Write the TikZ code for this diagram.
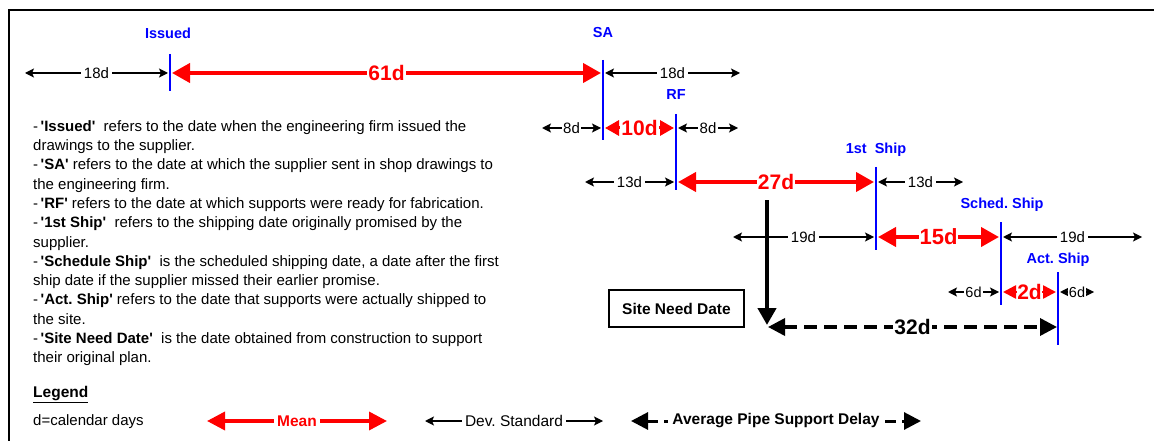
\documentclass[tikz,border=0pt]{standalone}
\usepackage{fontspec}
\setmainfont{Liberation Sans}[Ligatures=TeXOff]
\usetikzlibrary{arrows.meta}
\frenchspacing
\begin{document}
\begin{tikzpicture}[x=1pt,y=-1pt,
  dev/.style={draw=black, line width=1.2pt, {Stealth[length=9pt,width=9pt,inset=2pt]}-{Stealth[length=9pt,width=9pt,inset=2pt]}},
  devlab/.style={fill=white, inner sep=2.5pt, font=\fontsize{15}{17}\selectfont},
  mean/.style={draw=red, line width=4pt, {Triangle[length=18pt,width=19pt]}-{Triangle[length=18pt,width=19pt]}},
  meansm/.style={draw=red, line width=3pt, {Triangle[length=14pt,width=15pt]}-{Triangle[length=14pt,width=15pt]}},
  meanxs/.style={draw=red, line width=2.5pt, {Triangle[length=13pt,width=13pt]}-{Triangle[length=13pt,width=13pt]}},
  meanlab/.style={fill=white, inner sep=1pt, text=red, font=\bfseries\fontsize{21}{23}\selectfont},
  milestone/.style={draw=blue, line width=1.8pt},
  mslab/.style={text=blue, font=\bfseries\fontsize{14.5}{16}\selectfont},
  body/.style={anchor=base west, inner sep=0pt, font=\fontsize{15}{17}\selectfont},
  delay/.style={draw=black, line width=3.5pt, dash pattern=on 13pt off 7pt, {Triangle[length=17pt,width=17pt]}-{Triangle[length=17pt,width=17pt]}},
]
\useasboundingbox (0,0) rectangle (1154,441);
% frame
\coordinate (fb) at (9,441); \coordinate (ftl) at (9,10); \coordinate (ftr) at (1154,10);
\draw[line width=2pt] (fb) -- (ftl) -- (ftr);

% milestones
\coordinate (issT) at (170,54); \coordinate (issB) at (170,91);
\coordinate (saT) at (603,60); \coordinate (saB) at (603,140);
\coordinate (rfT) at (676,114); \coordinate (rfB) at (676,190);
\coordinate (fsT) at (876,167); \coordinate (fsB) at (876,250);
\coordinate (scT) at (1001,222); \coordinate (scB) at (1001,305);
\coordinate (acT) at (1058,272); \coordinate (acB) at (1058,345);
\draw[milestone] (issT) -- (issB);
\draw[milestone] (saT) -- (saB);
\draw[milestone] (rfT) -- (rfB);
\draw[milestone] (fsT) -- (fsB);
\draw[milestone] (scT) -- (scB);
\draw[milestone] (acT) -- (acB);
\node[mslab] (issL) at (168,33) {Issued};
\node[mslab] (saL) at (603,33) {SA};
\node[mslab] (rfL) at (676,95) {RF};
\node[mslab] (fsL) at (876,150) {1st\ \ Ship};
\node[mslab] (scL) at (1002,205) {Sched.\ Ship};
\node[mslab] (acL) at (1058,260) {Act. Ship};

% row 1
\coordinate (r1a) at (25,73); \coordinate (r1b) at (168,73);
\coordinate (r1c) at (172,73); \coordinate (r1d) at (601,73);
\coordinate (r1e) at (605,73); \coordinate (r1f) at (740,73);
\draw[dev] (r1a) -- node[devlab] (l18a) {18d} (r1b);
\draw[mean] (r1c) -- node[meanlab] (l61) {61d} (r1d);
\draw[dev] (r1e) -- node[devlab] (l18b) {18d} (r1f);

% row 2
\coordinate (r2a) at (542,128); \coordinate (r2b) at (601,128);
\coordinate (r2c) at (605,128); \coordinate (r2d) at (674,128);
\coordinate (r2e) at (678,128); \coordinate (r2f) at (738,128);
\draw[dev] (r2a) -- node[devlab, inner sep=1.5pt] (l8a) {8d} (r2b);
\draw[meansm] (r2c) -- node[meanlab] (l10) {10d} (r2d);
\draw[dev] (r2e) -- node[devlab, inner sep=1.5pt] (l8b) {8d} (r2f);

% row 3
\coordinate (r3a) at (585,182); \coordinate (r3b) at (674,182);
\coordinate (r3c) at (678,182); \coordinate (r3d) at (874,182);
\coordinate (r3e) at (878,182); \coordinate (r3f) at (963,182);
\draw[dev] (r3a) -- node[devlab] (l13a) {13d} (r3b);
\draw[mean] (r3c) -- node[meanlab] (l27) {27d} (r3d);
\draw[dev] (r3e) -- node[devlab] (l13b) {13d} (r3f);

% row 4
\coordinate (r4a) at (733,237); \coordinate (r4b) at (874,237);
\coordinate (r4c) at (878,237); \coordinate (r4d) at (999,237);
\coordinate (r4e) at (1003,237); \coordinate (r4f) at (1142,237);
\draw[dev] (r4a) -- node[devlab] (l19a) {19d} (r4b);
\draw[mean] (r4c) -- node[meanlab, font=\bfseries\fontsize{22}{24}\selectfont] (l15) {15d} (r4d);
\draw[dev] (r4e) -- node[devlab] (l19b) {19d} (r4f);

% row 5
\coordinate (r5a) at (948,292); \coordinate (r5b) at (999,292);
\coordinate (r5c) at (1003,292); \coordinate (r5d) at (1056,292);
\coordinate (r5e) at (1060,292); \coordinate (r5f) at (1094,292);
\draw[dev] (r5a) -- node[devlab, font=\fontsize{14.5}{16}\selectfont, inner sep=1pt] (l6a) {6d} (r5b);
\draw[meanxs] (r5c) -- node[meanlab, inner sep=0.5pt] (l2) {2d} (r5d);
\draw[dev] (r5e) -- node[devlab, font=\fontsize{14.5}{16}\selectfont, inner sep=1pt] (l6b) {6d} (r5f);

% site need date
\coordinate (vT) at (767,200); \coordinate (vB) at (767,325);
\draw[line width=4.5pt, -{Triangle[length=17pt,width=18pt]}] (vT) -- (vB);
\coordinate (dA) at (768,327); \coordinate (dB) at (1057,327);
\draw[delay] (dA) -- node[fill=white, inner sep=1.5pt, font=\bfseries\fontsize{21}{23}\selectfont] (l32) {32d} (dB);
\node[draw, line width=1.5pt, minimum width=135pt, minimum height=37pt, inner sep=0pt,
  font=\bfseries\fontsize{15.5}{17}\selectfont] (site) at (676.5,308.5) {Site Need Date};

% explanatory text
\node[body] (t1) at (33,131.5) {-\,\textbf{'Issued'}\ \ refers to the date when the engineering firm issued the};
\node[body] (t2) at (33,150.75) {drawings to the supplier.};
\node[body] (t3) at (33,170) {-\,\textbf{'SA'} refers to the date at which the supplier sent in shop drawings to};
\node[body] (t4) at (33,189.25) {the engineering firm.};
\node[body] (t5) at (33,208.5) {-\,\textbf{'RF'} refers to the date at which supports were ready for fabrication.};
\node[body] (t6) at (33,227.75) {-\,\textbf{'1st Ship'}\ \ refers to the shipping date originally promised by the};
\node[body] (t7) at (33,247) {supplier.};
\node[body] (t8) at (33,266.25) {-\,\textbf{'Schedule Ship'}\ \ is the scheduled shipping date, a date after the first};
\node[body] (t9) at (33,285.5) {ship date if the supplier missed their earlier promise.};
\node[body] (t10) at (33,304.75) {-\,\textbf{'Act. Ship'} refers to the date that supports were actually shipped to};
\node[body] (t11) at (33,324) {the site.};
\node[body] (t12) at (33,343.25) {-\,\textbf{'Site Need Date'}\ \ is the date obtained from construction to support};
\node[body] (t13) at (33,362.5) {their original plan.};

% legend
\node[anchor=west, inner sep=0pt, font=\bfseries\fontsize{15.5}{17}\selectfont] (leg) at (33,395) {\underline{Legend}};
\node[anchor=west, inner sep=0pt, font=\fontsize{15}{17}\selectfont] (cal) at (33,422) {d=calendar days};
\coordinate (ma) at (207,421); \coordinate (mb) at (387,421);
\draw[draw=red, line width=3.5pt, {Triangle[length=18pt,width=18pt]}-{Triangle[length=18pt,width=18pt]}] (ma) -- node[fill=white, inner sep=3pt, text=red, font=\bfseries\fontsize{15.5}{17}\selectfont] (lmean) {Mean} (mb);
\coordinate (da) at (425,421); \coordinate (db) at (603,421);
\draw[dev] (da) -- node[devlab, font=\fontsize{15.5}{17}\selectfont, inner sep=3pt] (ldev) {Dev. Standard} (db);
\coordinate (aa) at (631,421); \coordinate (ab) at (921,421);
\draw[draw=black, line width=3pt, dash pattern=on 11pt off 6pt, {Triangle[length=17pt,width=17pt]}-{Triangle[length=17pt,width=17pt]}] (aa) -- node[fill=white, inner sep=4pt, font=\bfseries\fontsize{15.5}{17}\selectfont] (lavg) {Average Pipe Support Delay} (ab);
\end{tikzpicture}
\end{document}
